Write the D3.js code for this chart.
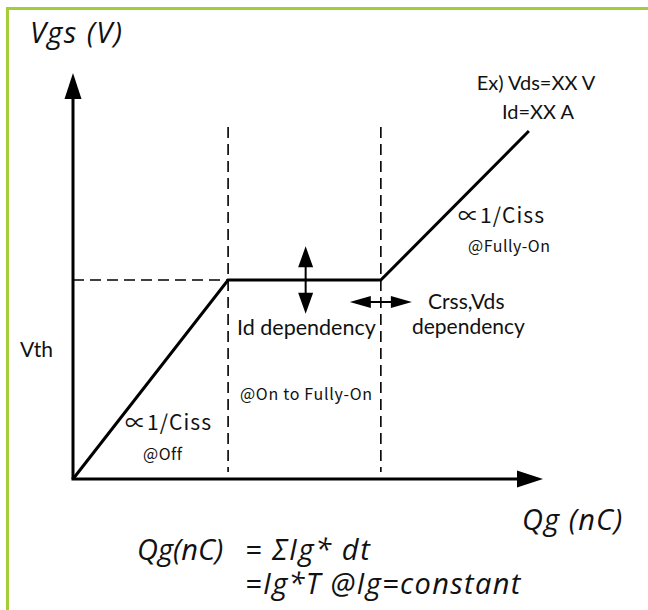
<!DOCTYPE html>
<html>
<head>
<meta charset="utf-8">
<script src="https://cdn.jsdelivr.net/npm/d3@7"></script>
<style>
  body { margin: 0; background: #fff; }
  text { fill: #111; }
  .lat { font-family: Lato, "Open Sans", sans-serif; }
  .it { font-family: "Open Sans", Lato, sans-serif; font-style: italic; }
  .jp { font-family: "Noto Sans CJK JP", sans-serif; }
</style>
</head>
<body>
<div id="vis"></div>
<script>
const svgWidth = 648;
const svgHeight = 610;

// gate charge curve (Qg in arbitrary units 0..100, Vgs 0..100)
const qgPoints = [0, 33, 65.5, 97];
const vgsPoints = [0, 49, 49, 85.7];

// guide lines
const plateauVgs = 49;
const regionEdges = [33, 65.5];
const guideTop = 86.7;
const guideBottom = 1.7;

// double arrows: centre q, centre v, half-length
const idArrow = { q: 49.5, v: 49, half: 8.3 };
const crssArrow = { q: 65.5, v: 43.6, half: 6.6 };

const labels = [
  { text: 'Vgs (V)', x: 30, y: 43, cls: 'it', size: 29, ls: 1.4 },
  { text: 'Ex) Vds=XX V', x: 536, y: 90, cls: 'lat', size: 20, anchor: 'middle' },
  { text: 'Id=XX A', x: 538, y: 119, cls: 'lat', size: 20, anchor: 'middle' },
  { text: '\u221d1/Ciss', x: 458, y: 223, cls: 'jp', size: 21, ls: 1.1 },
  { text: '@Fully-On', x: 468, y: 252, cls: 'jp', size: 16, ls: 0.5 },
  { text: 'Crss,Vds', x: 428, y: 309, cls: 'lat', size: 21 },
  { text: 'dependency', x: 412, y: 334, cls: 'lat', size: 21 },
  { text: 'Id dependency', x: 237, y: 335, cls: 'lat', size: 21.5 },
  { text: 'Vth', x: 20, y: 357, cls: 'lat', size: 21 },
  { text: '@On to Fully-On', x: 240, y: 400, cls: 'jp', size: 16, ls: 0.7 },
  { text: '\u221d1/Ciss', x: 125, y: 430, cls: 'jp', size: 21, ls: 1.1 },
  { text: '@Off', x: 143, y: 460, cls: 'jp', size: 16, ls: 0.5 },
  { text: 'Qg (nC)', x: 522, y: 530, cls: 'it', size: 29, ls: 1.1 },
  { text: 'Qg(nC)', x: 137, y: 560, cls: 'it', size: 29 },
  { text: '= \u03a3Ig* dt', x: 245, y: 560, cls: 'it', size: 29, ls: 1.6 },
  { text: '=Ig*T @Ig=constant', x: 245, y: 594, cls: 'it', size: 29, ls: 1.35 }
];

const svg = d3.select('#vis').append('svg').attr('width', svgWidth).attr('height', svgHeight);

// green frame (top and left only)
svg.append('path')
  .attr('d', 'M7.5,' + svgHeight + ' V8.5 H' + svgWidth)
  .attr('fill', 'none')
  .attr('stroke', '#a4cd3a')
  .attr('stroke-width', 3);

const x = d3.scaleLinear().domain([0, 100]).range([73, 543]);
const y = d3.scaleLinear().domain([0, 100]).range([479, 73]);

// axes with arrow heads
const axisG = svg.append('g');
axisG.append('line')
  .attr('x1', x(0)).attr('y1', y(0)).attr('x2', x(0)).attr('y2', y(100) + 20)
  .attr('stroke', '#000').attr('stroke-width', 3);
axisG.append('line')
  .attr('x1', x(0) - 1.5).attr('y1', y(0)).attr('x2', x(100) - 20).attr('y2', y(0))
  .attr('stroke', '#000').attr('stroke-width', 3);
axisG.append('path')
  .attr('d', `M${x(0)},${y(100)} L${x(0) - 8.5},${y(100) + 26} L${x(0) + 8.5},${y(100) + 26} Z`)
  .attr('fill', '#000');
axisG.append('path')
  .attr('d', `M${x(100)},${y(0)} L${x(100) - 26},${y(0) - 8.5} L${x(100) - 26},${y(0) + 8.5} Z`)
  .attr('fill', '#000');

// dashed guides
const guides = svg.append('g')
  .attr('stroke', '#000')
  .attr('stroke-width', 1.6)
  .attr('stroke-dasharray', '11,6');
guides.append('line')
  .attr('x1', x(0)).attr('x2', x(regionEdges[0]))
  .attr('y1', y(plateauVgs)).attr('y2', y(plateauVgs));
regionEdges.forEach((q) => {
  guides.append('line')
    .attr('x1', x(q)).attr('x2', x(q))
    .attr('y1', y(guideTop)).attr('y2', y(guideBottom));
});

// Vgs curve
const line = d3.line().x((d) => x(d[0])).y((d) => y(d[1]));
svg.append('path')
  .datum(d3.zip(qgPoints, vgsPoints))
  .attr('d', line)
  .attr('fill', 'none')
  .attr('stroke', '#000')
  .attr('stroke-width', 3)
  .attr('stroke-linejoin', 'miter');

// vertical double arrow
{
  const cx = x(idArrow.q);
  const top = y(idArrow.v + idArrow.half);
  const bot = y(idArrow.v - idArrow.half);
  const g = svg.append('g');
  g.append('line').attr('x1', cx).attr('x2', cx).attr('y1', top + 10).attr('y2', bot - 10)
    .attr('stroke', '#000').attr('stroke-width', 2);
  g.append('path').attr('d', `M${cx},${top} L${cx - 7.5},${top + 21} L${cx + 7.5},${top + 21} Z`).attr('fill', '#000');
  g.append('path').attr('d', `M${cx},${bot} L${cx - 7.5},${bot - 21} L${cx + 7.5},${bot - 21} Z`).attr('fill', '#000');
}

// horizontal double arrow
{
  const cy = y(crssArrow.v);
  const l = x(crssArrow.q - crssArrow.half);
  const r = x(crssArrow.q + crssArrow.half);
  const g = svg.append('g');
  g.append('line').attr('x1', l + 10).attr('x2', r - 10).attr('y1', cy).attr('y2', cy)
    .attr('stroke', '#000').attr('stroke-width', 2);
  g.append('path').attr('d', `M${l},${cy} L${l + 21},${cy - 6} L${l + 21},${cy + 6} Z`).attr('fill', '#000');
  g.append('path').attr('d', `M${r},${cy} L${r - 21},${cy - 6} L${r - 21},${cy + 6} Z`).attr('fill', '#000');
}

// labels
svg.append('g').selectAll('text')
  .data(labels)
  .join('text')
  .attr('class', (d) => d.cls)
  .attr('x', (d) => d.x)
  .attr('y', (d) => d.y)
  .attr('font-size', (d) => d.size)
  .attr('letter-spacing', (d) => d.ls || 0)
  .attr('text-anchor', (d) => d.anchor || 'start')
  .text((d) => d.text);
</script>
</body>
</html>
